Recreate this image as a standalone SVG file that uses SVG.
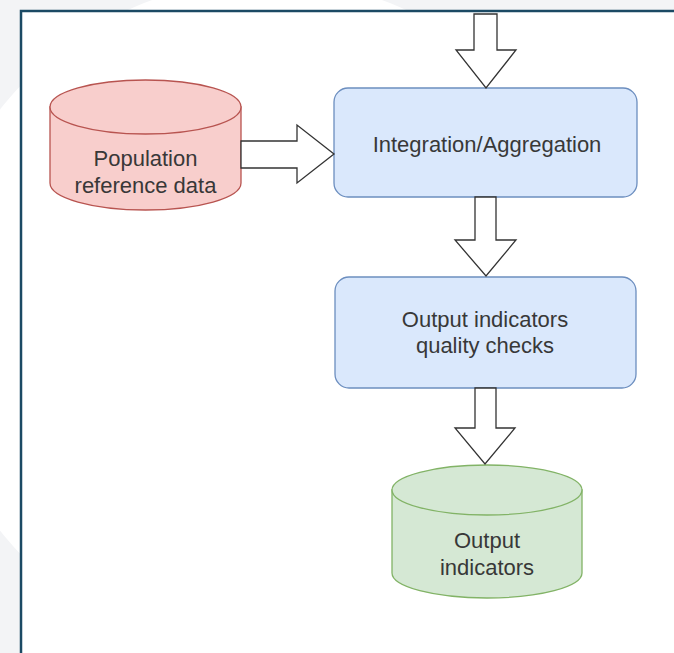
<svg xmlns="http://www.w3.org/2000/svg" width="674" height="653" viewBox="0 0 674 653">
<style>
.t{font-family:"Liberation Sans",Arial,sans-serif;font-size:22px;fill:#383838;text-anchor:middle}
.arr{fill:#ffffff;stroke:#333333;stroke-width:1.3;stroke-linejoin:miter}
.pink{fill:#f8cecc;stroke:#b85450;stroke-width:1.3}
.blue{fill:#dae8fc;stroke:#6c8ebf;stroke-width:1.3}
.green{fill:#d5e8d4;stroke:#82b366;stroke-width:1.3}
</style>
<rect x="0" y="0" width="674" height="653" fill="#f3f4f6"/>
<circle cx="267" cy="320" r="340" fill="#ffffff"/>
<rect x="21" y="11" width="653" height="642" fill="#ffffff"/>
<path d="M21 653 L21 11 L674 11" fill="none" stroke="#1b4a64" stroke-width="2.5"/>

<g id="population">
<path class="pink" d="M50 107 L50 183 A95.5 27 0 0 0 241 183 L241 107 Z"/>
<ellipse class="pink" cx="145.5" cy="107" rx="95.5" ry="27"/>
<text class="t" x="145.5" y="166">Population</text>
<text class="t" x="145.5" y="193">reference data</text>
</g>

<g id="integration">
<rect class="blue" x="334" y="88" width="303" height="109" rx="14"/>
<text class="t" x="487" y="152">Integration/Aggregation</text>
</g>

<g id="quality">
<rect class="blue" x="335" y="277" width="301" height="111" rx="14"/>
<text class="t" x="485" y="327">Output indicators</text>
<text class="t" x="485" y="353">quality checks</text>
</g>

<g id="output">
<path class="green" d="M392 490 L392 573 A95 25 0 0 0 582 573 L582 490 Z"/>
<ellipse class="green" cx="487" cy="490" rx="95" ry="25"/>
<text class="t" x="487" y="548">Output</text>
<text class="t" x="487" y="575">indicators</text>
</g>

<g id="connectors">
<polygon class="arr" points="474,14 497,14 497,50 516,50 486,88 456,50 474,50"/>
<polygon class="arr" points="241,141 297,141 297,125 334,154 297,183 297,168 241,168"/>
<polygon class="arr" points="475,197 496,197 496,240 516,240 486,276 455,240 475,240"/>
<polygon class="arr" points="475,388 496,388 496,428 515,428 485,464 455,428 475,428"/>
</g>
</svg>
